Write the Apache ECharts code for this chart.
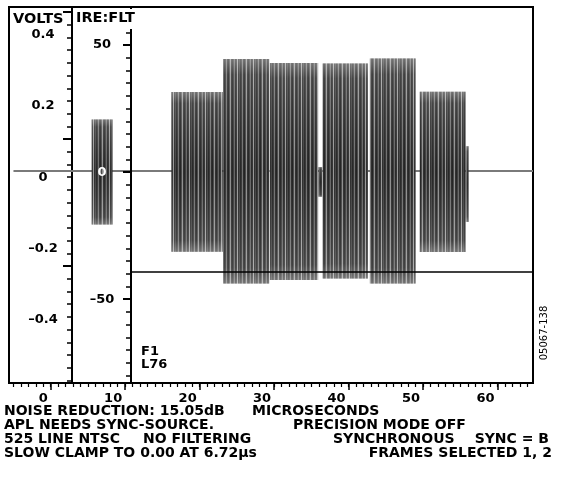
<!DOCTYPE html>
<html>
<head>
<meta charset="utf-8">
<script src="https://cdn.jsdelivr.net/npm/echarts@6/dist/echarts.min.js"></script>
<style>
html, body { margin: 0; padding: 0; background: #fff; }
#chart { width: 561px; height: 478px; }
</style>
</head>
<body>
<div id="chart"></div>
<script>
// waveform, time in microseconds, level in IRE
const burstStart  = [5.5, 16.2, 23.15, 29.4, 35.95, 36.5, 42.85, 49.55, 55.7]
const burstEnd    = [8.3, 23.1, 29.35, 35.9, 36.45, 42.6, 49.0, 55.7, 56.1]
const burstTop    = [20.7, 31.5, 44.5, 43.0, 2.0, 42.8, 44.7, 31.6, 10.2]
const burstBottom = [-20.6, -31.3, -43.8, -42.5, -9.7, -41.9, -43.8, -31.4, -19.6]

const baseTime = [-5.0, 64.75]
const baseLevel = [0.4, 0.4]
const syncTime = [10.8, 64.75]
const syncLevel = -39.3

// axes
const usLabels = [0, 10, 20, 30, 40, 50, 60]
const ireLabels = [50, 0, -50]
const voltLabels = [0.4, 0.2, 0, -0.2, -0.4]
const voltMajor = [63, 13, -37]   // long ticks on the volts scale, in IRE
const IRE_PER_VOLT = 140

const X_MIN = -5.6, X_MAX = 64.75
const Y_MIN = -83, Y_MAX = 65

let usMinor = [], ireMinor = [], voltMinor = []
for (let t = -5; t <= 64; t++) usMinor.push(t)
for (let v = -80; v <= 60; v += 5) ireMinor.push(v)
for (let v = -82; v <= 63; v += 5) voltMinor.push(v)

const FONT = 'DejaVu Sans'
const labelFont = { fontFamily: FONT, fontWeight: 'bold', fontSize: 13, color: '#000' }

// striped fill for the bursts
const stripeColors = ['#2b2b2b', '#3d3d3d', '#7a7a7a', '#303030', '#262626', '#4f4f4f',
  '#9a9a9a', '#353535', '#2a2a2a', '#444444', '#6f6f6f', '#2e2e2e', '#3a3a3a', '#a4a4a4', '#333333', '#4a4a4a']
const pat = document.createElement('canvas')
pat.width = stripeColors.length
pat.height = 4
const pctx = pat.getContext('2d')
stripeColors.forEach((c, i) => { pctx.fillStyle = c; pctx.fillRect(i, 0, 1, 4) })

const minus = s => String(s).replace('-', '\u2013')

function yAxis(offset, ticks, len, width, line) {
  return {
    type: 'value', min: Y_MIN, max: Y_MAX, position: 'left', offset: offset,
    axisLine: { show: line, onZero: false, lineStyle: { color: '#000', width: 2 } },
    axisTick: { show: true, customValues: ticks, length: len, lineStyle: { color: '#000', width: width } },
    axisLabel: { show: false },
    splitLine: { show: false }
  }
}

const yIre = yAxis(-122, ireLabels, 8, 2, true)
yIre.z = 5
yIre.axisLabel = Object.assign({
  show: true, customValues: ireLabels, align: 'center', margin: 29,
  formatter: v => v === 0 ? '{w|0}' : minus(v),
  rich: { w: Object.assign({}, labelFont, { color: '#fff' }) }
}, labelFont)

const yVolt = yAxis(-63, voltMajor, 9, 2, true)
yVolt.axisLabel = Object.assign({
  show: true, customValues: voltLabels.map(v => v * IRE_PER_VOLT), align: 'center', margin: 29,
  formatter: v => { let x = v / IRE_PER_VOLT; return '{d|' + (x === 0 ? '0' : minus(x.toFixed(1))) + '}' },
  rich: { d: Object.assign({ padding: [10, 0, 0, 0] }, labelFont) }
}, labelFont)

const chart = echarts.init(document.getElementById('chart'), null, { renderer: 'canvas' })

const note = (text, x, y, align) => ({
  type: 'text', x: x, y: y, z: 10,
  style: { text: text, font: 'bold 14px "DejaVu Sans"', fill: '#000', align: align || 'left', verticalAlign: 'middle' }
})

chart.setOption({
  animation: false,
  backgroundColor: '#fff',
  grid: { left: 9, right: 28, top: 7, bottom: 95, show: true, borderColor: '#000', borderWidth: 2 },
  xAxis: [
    {
      type: 'value', min: X_MIN, max: X_MAX, position: 'bottom',
      axisLine: { show: true, onZero: false, lineStyle: { color: '#000', width: 2 } },
      axisTick: { show: true, customValues: usLabels, length: 7, lineStyle: { color: '#000', width: 1.5 } },
      axisLabel: Object.assign({ customValues: usLabels, align: 'right', padding: [0, 3, 0, 0], margin: 9 }, labelFont),
      splitLine: { show: false }
    },
    {
      type: 'value', min: X_MIN, max: X_MAX, position: 'bottom',
      axisLine: { show: false, onZero: false },
      axisTick: { show: true, customValues: usMinor, length: 4, lineStyle: { color: '#000', width: 1.2 } },
      axisLabel: { show: false },
      splitLine: { show: false }
    }
  ],
  yAxis: [
    yIre,
    yAxis(-122, ireMinor, 5, 1.5, false),
    yVolt,
    yAxis(-63, voltMinor, 5, 1.5, false)
  ],
  series: [
    {
      type: 'line', xAxisIndex: 0, yAxisIndex: 0, z: 2,
      data: baseTime.map((t, i) => [t, baseLevel[i]]),
      symbol: 'none',
      lineStyle: { color: '#7a7a7a', width: 2 }
    },
    {
      type: 'custom', xAxisIndex: 0, yAxisIndex: 0, z: 3,
      data: burstStart.map((s, i) => [s, burstEnd[i], burstTop[i], burstBottom[i]]),
      encode: { x: [0, 1], y: [2, 3] },
      renderItem: (params, api) => {
        const p1 = api.coord([api.value(0), api.value(2)])
        const p2 = api.coord([api.value(1), api.value(3)])
        const shape = { x: p1[0], y: p1[1], width: p2[0] - p1[0], height: p2[1] - p1[1] }
        return {
          type: 'group',
          children: [
            { type: 'rect', shape: shape, style: { fill: { image: pat, repeat: 'repeat' } } },
            {
              type: 'rect', shape: shape,
              style: {
                fill: new echarts.graphic.LinearGradient(0, 0, 0, 1, [
                  { offset: 0, color: 'rgba(255,255,255,0.35)' },
                  { offset: 0.07, color: 'rgba(255,255,255,0.12)' },
                  { offset: 0.5, color: 'rgba(0,0,0,0.08)' },
                  { offset: 0.93, color: 'rgba(255,255,255,0.12)' },
                  { offset: 1, color: 'rgba(255,255,255,0.35)' }
                ])
              }
            }
          ]
        }
      }
    },
    {
      type: 'line', xAxisIndex: 0, yAxisIndex: 0, z: 4,
      data: syncTime.map(t => [t, syncLevel]),
      symbol: 'none',
      lineStyle: { color: '#000', width: 1.5 }
    }
  ],
  graphic: [
    { type: 'text', left: 13, top: 12, z: 10, style: { text: 'VOLTS', font: 'bold 14.5px "DejaVu Sans"', fill: '#000' } },
    { type: 'text', left: 75, top: 9, z: 10, style: { text: 'IRE:FLT', font: 'bold 14.5px "DejaVu Sans"', fill: '#000', backgroundColor: '#fff', padding: [2, 1, 3, 1] } },
    { type: 'text', left: 141, top: 345, z: 10, style: { text: 'F1\nL76', font: 'bold 13px "DejaVu Sans"', fill: '#000', lineHeight: 13 } },
    { type: 'text', x: 544, y: 333, rotation: Math.PI / 2, z: 10, style: { text: '05067-138', font: '10px "DejaVu Sans"', fill: '#000', align: 'center', verticalAlign: 'middle' } },
    note('NOISE REDUCTION: 15.05dB', 4, 411),
    note('APL NEEDS SYNC-SOURCE.', 4, 425),
    note('525 LINE NTSC', 4, 439),
    note('NO FILTERING', 143, 439),
    note('SLOW CLAMP TO 0.00 AT 6.72\u00b5s', 4, 453),
    note('MICROSECONDS', 252, 411),
    note('PRECISION MODE OFF', 293, 425),
    note('SYNCHRONOUS', 333, 439),
    note('SYNC = B', 549, 439, 'right'),
    note('FRAMES SELECTED 1, 2', 552, 453, 'right')
  ]
})
</script>
</body>
</html>
